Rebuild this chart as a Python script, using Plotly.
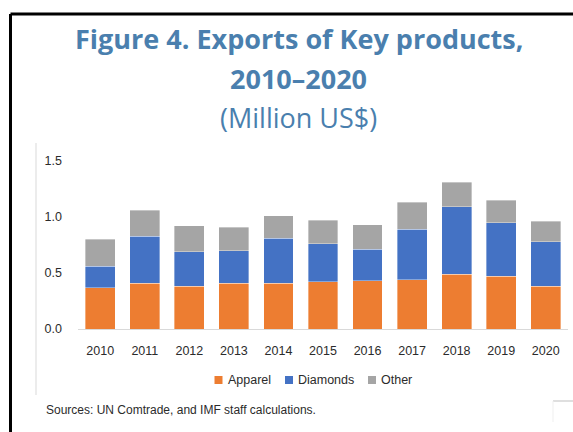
import plotly.graph_objects as go

# Export values by product, million US$
years = ["2010", "2011", "2012", "2013", "2014", "2015", "2016", "2017", "2018", "2019", "2020"]
apparel = [0.37, 0.41, 0.38, 0.41, 0.41, 0.42, 0.43, 0.44, 0.49, 0.47, 0.38]
diamonds = [0.19, 0.42, 0.31, 0.29, 0.40, 0.34, 0.28, 0.45, 0.60, 0.48, 0.40]
other = [0.24, 0.23, 0.23, 0.21, 0.20, 0.21, 0.22, 0.24, 0.22, 0.20, 0.18]

y_ticks = [0.0, 0.5, 1.0, 1.5]
y_tick_text = ["0.0", "0.5", "1.0", "1.5"]

series_names = ["Apparel", "Diamonds", "Other"]
series_colors = ["#ED7D31", "#4472C4", "#A5A5A5"]
series_values = [apparel, diamonds, other]

W, H = 573, 432
L, R, T, B = 78, 5, 161, 103
PW, PH = W - L - R, H - T - B

TEXT = "#2B2B2B"
TITLE = "#4A7FAE"


def fx(px):
    """Figure pixel x -> paper coordinate."""
    return (px - L) / PW


def fy(py):
    """Figure pixel y (from top) -> paper coordinate."""
    return (H - B - py) / PH


fig = go.Figure()
for name, vals, color in zip(series_names, series_values, series_colors):
    fig.add_trace(go.Bar(x=years, y=vals, name=name, marker_color=color,
                         showlegend=False,
                         marker_line=dict(color="rgba(255,255,255,0.6)", width=0.6)))

fig.update_layout(
    width=W, height=H,
    margin=dict(l=L, r=R, t=T, b=B),
    paper_bgcolor="white", plot_bgcolor="white",
    barmode="stack", bargap=0.33,
    showlegend=False,
    font=dict(family="Liberation Sans, Arial", size=12.5, color=TEXT),
    xaxis=dict(showgrid=False, showline=True, linecolor="#D9D9D9", linewidth=1,
               ticks="", ticklabelstandoff=10,
               tickfont=dict(size=12.5, color=TEXT)),
    yaxis=dict(range=[0, 1.5], tickvals=y_ticks, ticktext=y_tick_text,
               showgrid=False, showline=False, zeroline=False, ticks="",
               ticklabelstandoff=15,
               tickfont=dict(size=12.5, color=TEXT)),
)

# Frame lines in figure pixel coordinates
frame = [
    ((10.5, 14), (10.5, 432), "black", 3),
    ((10.5, 14), (573, 14), "black", 3),
    ((36, 143), (36, 395), "#D9D9D9", 1),
    ((553, 401), (573, 401), "#BFBFBF", 1),
    ((553, 401), (553, 422), "#EFEFEF", 1),
]
shapes = []
for (x0, y0), (x1, y1), c, w in frame:
    shapes.append(dict(type="line", xref="paper", yref="paper",
                       x0=fx(x0), x1=fx(x1), y0=fy(y0), y1=fy(y1),
                       line=dict(color=c, width=w)))

# Legend: small square keys followed by the series name
legend_key_x = [214.5, 285, 368]
legend_y = 380
for kx, name, color in zip(legend_key_x, series_names, series_colors):
    shapes.append(dict(type="rect", xref="paper", yref="paper",
                       x0=fx(kx), x1=fx(kx + 8), y0=fy(legend_y - 4), y1=fy(legend_y + 4),
                       fillcolor=color, line=dict(width=0)))
    fig.add_annotation(text=name, xref="paper", yref="paper",
                       x=fx(kx + 11), y=fy(legend_y), xanchor="left", yanchor="middle",
                       showarrow=False,
                       font=dict(family="Liberation Sans, Arial", size=12.5, color=TEXT))
fig.update_layout(shapes=shapes)


def ann(text, xpx, ypx, size, bold=False, color=TITLE, family="Open Sans", xanchor="center"):
    fig.add_annotation(text=("<b>%s</b>" % text) if bold else text,
                       xref="paper", yref="paper",
                       x=fx(xpx), y=fy(ypx),
                       xanchor=xanchor, yanchor="middle", showarrow=False,
                       font=dict(family=family, size=size, color=color))


ann("Figure 4. Exports of Key products,", 298.5, 39, 27, bold=True)
ann("2010–2020", 298.5, 78, 27, bold=True)
ann("(Million US$)", 298.5, 117, 27)
ann("Sources: UN Comtrade, and IMF staff calculations.", 44, 410, 12,
    color=TEXT, family="Liberation Sans, Arial", xanchor="left")

fig.write_html("out.html")
